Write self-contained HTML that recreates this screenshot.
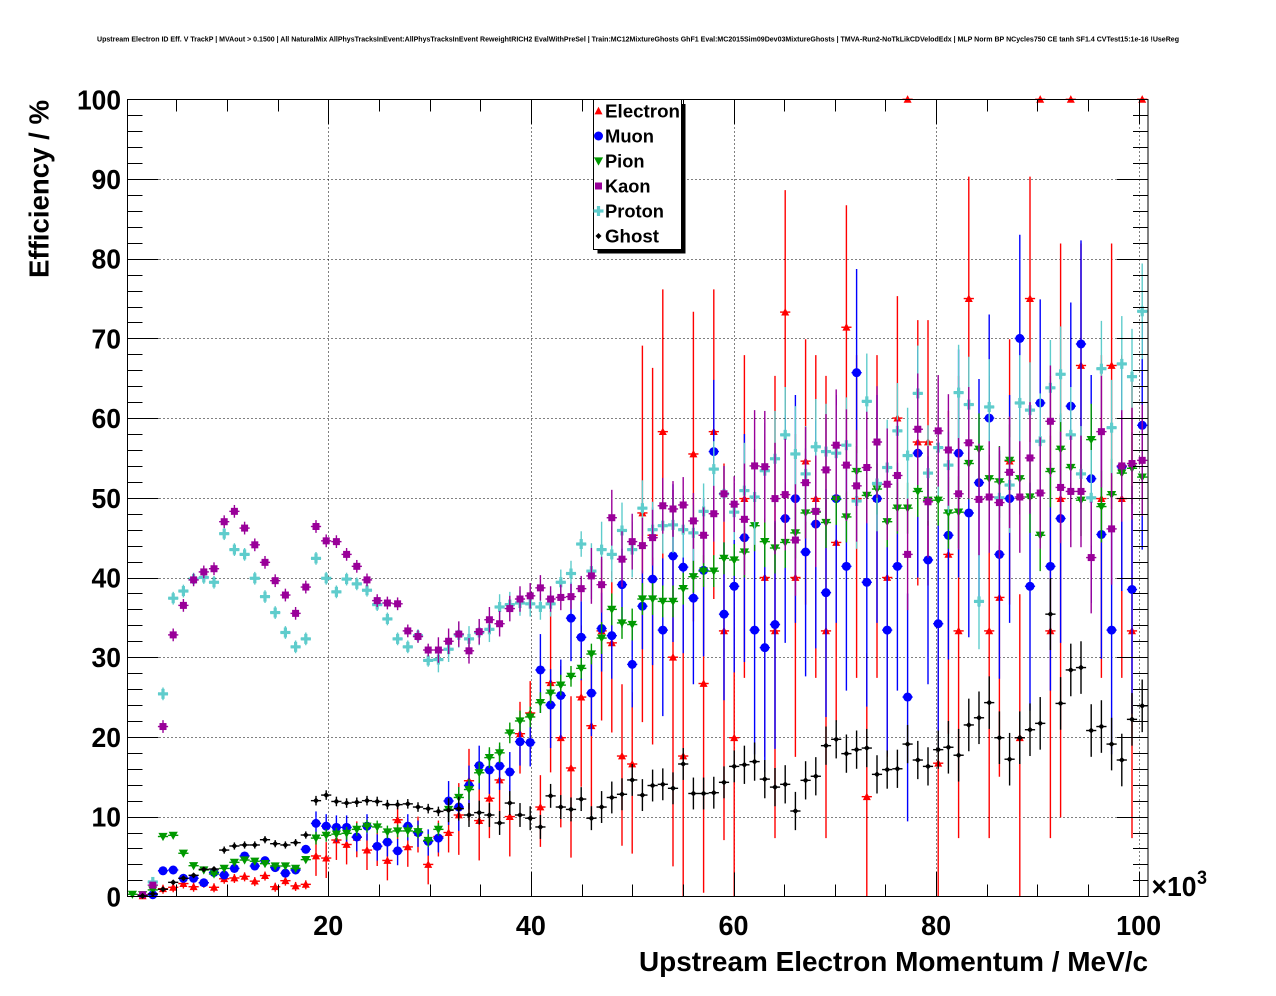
<!DOCTYPE html>
<html><head><meta charset="utf-8">
<style>
html,body{margin:0;padding:0;background:#fff;}
svg{display:block;}
text{font-family:"Liberation Sans",Arial,sans-serif;font-weight:bold;fill:#000;}
</style></head>
<body>
<svg id="c" width="1276" height="996" viewBox="0 0 1276 996" xmlns="http://www.w3.org/2000/svg">
<rect width="1276" height="996" fill="#fff"/>
<text x="638" y="41.5" font-size="7.2" text-anchor="middle" textLength="1082" lengthAdjust="spacingAndGlyphs">Upstream Electron ID Eff. V TrackP | MVAout &gt; 0.1500 | All NaturalMix AllPhysTracksInEvent:AllPhysTracksInEvent ReweightRICH2 EvalWithPreSel | Train:MC12MixtureGhosts GhF1 Eval:MC2015Sim09Dev03MixtureGhosts | TMVA-Run2-NoTkLikCDVelodEdx | MLP Norm BP NCycles750 CE tanh SF1.4 CVTest15:1e-16 !UseReg</text>

<g id="grid" stroke="#000" stroke-width="1" stroke-dasharray="1 3" fill="none"></g>
<g id="data"></g>
<g id="ticks" stroke="#000" stroke-width="1"></g>
<rect x="127.5" y="99.5" width="1020.5" height="797" fill="none" stroke="#000" stroke-width="1"/>

<!-- Y tick labels -->
<g font-size="28" text-anchor="end">
<text x="121" y="906.3" textLength="14.5" lengthAdjust="spacingAndGlyphs">0</text>
<text x="121" y="826.6" textLength="29.5" lengthAdjust="spacingAndGlyphs">10</text>
<text x="121" y="746.9" textLength="29.5" lengthAdjust="spacingAndGlyphs">20</text>
<text x="121" y="667.2" textLength="29.5" lengthAdjust="spacingAndGlyphs">30</text>
<text x="121" y="587.5" textLength="29.5" lengthAdjust="spacingAndGlyphs">40</text>
<text x="121" y="507.8" textLength="29.5" lengthAdjust="spacingAndGlyphs">50</text>
<text x="121" y="428.1" textLength="29.5" lengthAdjust="spacingAndGlyphs">60</text>
<text x="121" y="348.4" textLength="29.5" lengthAdjust="spacingAndGlyphs">70</text>
<text x="121" y="268.7" textLength="29.5" lengthAdjust="spacingAndGlyphs">80</text>
<text x="121" y="189.0" textLength="29.5" lengthAdjust="spacingAndGlyphs">90</text>
<text x="121" y="109.3" textLength="44" lengthAdjust="spacingAndGlyphs">100</text>
</g>
<!-- X tick labels -->
<g font-size="28" text-anchor="middle">
<text x="328.3" y="935" textLength="30" lengthAdjust="spacingAndGlyphs">20</text>
<text x="530.9" y="935" textLength="30" lengthAdjust="spacingAndGlyphs">40</text>
<text x="733.5" y="935" textLength="30" lengthAdjust="spacingAndGlyphs">60</text>
<text x="936.1" y="935" textLength="30" lengthAdjust="spacingAndGlyphs">80</text>
<text x="1138.6" y="935" textLength="45" lengthAdjust="spacingAndGlyphs">100</text>
</g>
<text x="1151.5" y="896" font-size="28" textLength="45" lengthAdjust="spacingAndGlyphs">×10</text>
<text x="1197" y="884" font-size="19" textLength="10" lengthAdjust="spacingAndGlyphs">3</text>

<!-- axis titles -->
<text x="1148" y="971" font-size="27.5" text-anchor="end" textLength="509" lengthAdjust="spacingAndGlyphs">Upstream Electron Momentum / MeV/c</text>
<text transform="translate(48.5,100) rotate(-90)" x="0" y="0" font-size="27.5" text-anchor="end" textLength="178" lengthAdjust="spacingAndGlyphs">Efficiency / %</text>

<!-- legend -->
<rect x="597.5" y="104" width="88" height="149.5" fill="#000"/>
<rect x="593.5" y="99.5" width="88" height="150" fill="#fff" stroke="#000" stroke-width="1"/>
<g id="legm"></g>
<g font-size="18.7">
<text x="605" y="117.5" textLength="75" lengthAdjust="spacingAndGlyphs">Electron</text>
<text x="605" y="142.5" textLength="49" lengthAdjust="spacingAndGlyphs">Muon</text>
<text x="605" y="167.5" textLength="39.5" lengthAdjust="spacingAndGlyphs">Pion</text>
<text x="605" y="192.5" textLength="45.5" lengthAdjust="spacingAndGlyphs">Kaon</text>
<text x="605" y="217.5" textLength="59" lengthAdjust="spacingAndGlyphs">Proton</text>
<text x="605" y="242.5" textLength="54" lengthAdjust="spacingAndGlyphs">Ghost</text>
</g>
</svg>
<script>
(function(){
const NS="http://www.w3.org/2000/svg";
const X=k=>132.4+10.2*k, Y=v=>896.3-7.97*v, XV=v=>125.7+10.13*v;
function el(tag,a,p){const e=document.createElementNS(NS,tag);for(const k in a)e.setAttribute(k,a[k]);p.appendChild(e);return e;}
const grid=document.getElementById('grid'), ticks=document.getElementById('ticks'), dataG=document.getElementById('data'), legm=document.getElementById('legm');
// grid
[20,40,60,80,100].forEach(v=>{const x=Math.round(XV(v))+0.5;el('line',{x1:x,y1:99.5,x2:x,y2:896.5},grid);});
for(let v=10;v<100;v+=10){const y=Math.round(Y(v))+0.5;el('line',{x1:127.5,y1:y,x2:1148,y2:y},grid);}
// ticks
for(let v=5;v<=100;v+=5){const x=Math.round(XV(v))+0.5;const L=(v%20===0)?24:12;
 el('line',{x1:x,y1:896.5,x2:x,y2:896.5-L},ticks);el('line',{x1:x,y1:99.5,x2:x,y2:99.5+L},ticks);}
for(let v=0;v<=100;v+=2){const y=Math.round(Y(v))+0.5;const L=(v%10===0)?31:15;
 el('line',{x1:127.5,y1:y,x2:127.5+L,y2:y},ticks);el('line',{x1:1148,y1:y,x2:1148-L,y2:y},ticks);}
// markers
const mk={
 tu:(g,x,y,c)=>el('polygon',{points:`${x-4},${y+3.4} ${x+4},${y+3.4} ${x},${y-4.2}`,fill:c},g),
 ci:(g,x,y,c)=>el('circle',{cx:x,cy:y,r:4.5,fill:c},g),
 td:(g,x,y,c)=>el('polygon',{points:`${x-4.6},${y-3.6} ${x+4.6},${y-3.6} ${x},${y+4.6}`,fill:c},g),
 sq:(g,x,y,c)=>el('rect',{x:x-3.5,y:y-3.5,width:7,height:7,fill:c},g),
 cr:(g,x,y,c)=>{el('rect',{x:x-5,y:y-1.6,width:10,height:3.2,fill:c},g);el('rect',{x:x-1.6,y:y-5,width:3.2,height:10,fill:c},g);},
 gh:(g,x,y,c)=>el('polygon',{points:`${x-3},${y} ${x},${y-3} ${x+3},${y} ${x},${y+3}`,fill:c},g)
};
const E=[null,0.05,null,0.95,1.13,1.6,1.2,1.7,1.13,2.2,
2.3,2.5,1.9,2.6,1.2,1.96,1.3,1.5,5.06,4.8,
7.06,6.5,7.4,5.8,6.3,4.5,9.6,6.2,8.0,4.0,
7.5,8.0,10.2,14.5,9.5,12.3,14.6,10.0,20.4,23.0,
11.2,26.8,19.9,16.1,25.0,21.4,33.3,31.8,17.6,16.6,
48.1,45.3,58.3,30.0,17.6,55.5,26.7,58.3,33.3,19.9,
49.9,null,40.0,33.3,73.3,40.0,54.6,49.9,33.3,44.4,
71.4,49.9,12.5,49.9,40.0,60.0,100,57.0,57.0,16.7,
42.9,33.3,75.0,null,33.3,37.5,54.6,19.9,75.0,100,
33.3,49.9,100,66.6,null,49.9,66.6,49.9,33.3,100];
const M=[null,null,0.2,3.2,3.3,2.26,2.26,1.7,3.0,2.67,
3.5,5.06,3.8,4.47,3.6,2.9,3.3,5.9,9.15,8.8,
8.65,8.65,7.44,8.8,6.27,6.8,5.7,8.8,8.0,6.9,
7.3,11.96,11.2,13.9,16.4,15.85,16.35,15.6,19.4,19.3,
28.4,24.0,25.2,34.9,32.5,25.5,33.6,32.7,39.1,29.1,
36.4,39.8,33.4,42.7,41.3,37.4,40.9,55.8,35.4,38.9,
45.0,33.4,31.2,34.1,47.4,49.9,43.2,46.7,38.1,49.9,
41.4,65.7,39.4,49.9,33.4,41.4,25.0,55.6,42.2,34.2,
45.3,55.6,48.1,51.9,60.0,42.9,49.9,70.0,38.9,61.9,
41.4,47.4,61.5,69.3,52.4,45.4,33.4,53.9,38.5,59.1];
const P=[0.25,0.2,0.8,7.5,7.65,5.4,3.84,3.3,2.8,3.5,
4.26,4.55,4.4,4.1,3.8,3.8,3.5,4.6,7.3,7.65,
7.8,7.9,8.4,8.8,8.7,8.07,8.2,8.2,8.1,7.0,
8.4,10.9,12.4,13.4,15.5,17.4,18.0,20.5,22.0,22.5,
24.3,25.5,26.5,27.6,28.6,30.4,32.4,36.0,34.3,34.1,
37.3,37.3,37.0,37.0,38.6,40.1,40.8,40.8,42.4,42.2,
43.2,46.5,44.5,43.7,44.4,45.6,48.1,48.2,46.9,49.8,
47.6,53.3,50.3,51.1,47.0,48.7,48.7,50.8,49.7,49.7,
48.1,48.2,54.3,56.1,52.4,52.0,54.7,52.4,50.1,45.3,
53.3,56.1,53.8,49.7,57.3,48.9,50.4,53.1,53.7,52.6];
const K=[null,0.2,1.4,21.3,32.8,36.5,39.7,40.7,41.1,47.0,
48.3,46.2,44.1,41.9,39.6,37.8,35.5,38.8,46.4,44.6,
44.5,42.9,41.4,39.7,37.1,36.8,36.7,33.3,32.6,30.9,
30.9,32.0,32.9,30.8,33.2,34.7,34.2,36.1,37.3,37.7,
38.7,37.3,37.5,37.6,38.6,40.2,39.1,47.5,42.3,44.5,
44.0,45.0,49.0,48.6,49.1,47.1,45.3,48.0,50.5,49.2,
47.3,54.0,53.9,49.9,50.4,44.7,51.9,48.3,53.5,56.6,
54.1,51.5,53.8,57.0,51.7,52.8,42.9,58.6,49.5,58.4,
56.0,50.5,56.9,49.8,50.1,49.4,53.2,50.1,55.0,50.6,
59.6,51.3,50.8,50.8,42.5,58.3,46.1,54.0,54.3,54.7];
const PR=[null,null,1.8,25.4,37.4,38.3,39.8,40.0,39.4,45.5,
43.5,42.9,39.9,37.6,35.6,33.1,31.3,32.3,42.4,39.9,
38.2,39.8,39.2,38.4,36.6,34.8,32.3,31.3,32.7,29.6,
29.7,31.0,32.8,32.3,33.1,33.5,36.3,36.6,36.8,36.7,
36.3,36.7,39.4,40.5,44.2,40.8,43.5,42.9,45.9,43.5,
48.7,46.0,46.5,46.6,46.0,45.6,48.3,53.6,50.5,48.2,
50.9,50.1,53.4,54.9,57.9,55.5,53.0,56.4,55.8,55.6,
56.6,49.6,62.1,51.8,53.8,58.4,55.3,63.1,53.1,56.3,
54.1,63.2,61.7,37.0,61.4,50.0,51.6,61.9,61.0,57.1,
63.8,65.5,57.9,53.0,50.0,66.2,58.8,66.8,65.2,73.4];
const G=[null,0.05,0.3,0.88,1.75,2.26,2.63,3.38,3.42,5.8,
6.31,6.44,6.44,7.1,6.6,6.44,6.73,7.69,12.0,12.7,
11.9,11.7,11.8,12.0,11.9,11.5,11.5,11.6,11.2,11.0,
10.65,10.8,11.0,10.2,10.5,10.2,9.2,11.7,10.2,9.8,
8.7,12.6,11.2,10.9,12.2,9.8,11.2,12.4,12.8,14.6,
12.7,13.9,14.05,13.55,16.6,12.9,12.9,13.0,14.3,16.3,
16.5,16.9,14.7,13.7,14.05,10.7,14.55,15.06,18.9,19.7,
17.9,18.4,18.6,15.3,15.9,16.0,19.1,17.1,16.3,18.4,
18.7,17.7,21.5,22.4,24.3,19.9,17.2,19.9,20.9,21.7,
35.4,24.2,28.4,28.7,20.8,21.3,19.1,17.1,22.2,23.9];

const errE=(k,v)=>{ if(v>=99.9) return [0,0];
 let e=k<18?0.5:k<32?2:k<41?4:k<50?9:k<60?21:18;
 if(k===90||k===91) e=32;
 if(k>=60&&Math.abs(v-33.3)<0.2) return [26,32];
 if(v<50) return [Math.min(v,e*1.25),e]; return [e,e*0.85]; };
const errM=(k,v)=>{const e=k<18?0.45:k<31?1.5:k<40?2.5:k<51?4.5:k<60?9:13; return [e*1.2,e];};
const errP=(k,v)=>{const e=k<18?0.35:k<31?0.8:k<46?1.3:k<60?2:k<80?3.2:4.5; return [e,e];};
const errK=(k,v)=>{const e=k<3?0.3:k<30?0.8:k<45?1.6:k<60?3.5:7; return [e,e];};
const errPR=(k,v)=>{const e=k<3?0.3:k<30?0.8:k<45?1.6:k<60?3.5:6; return [e,e];};
const errG=(k,v)=>{let e=k<9?0.3:k<18?0.45:k<31?0.6:k<46?1.5:k<60?2.0:k<80?2.4:3.3; if(k===90)e=4.5; return [e,e];};

function draw(data,color,m,errF){
 const g=el('g',{},dataG);
 data.forEach((v,k)=>{ if(v===null) return;
  const x=X(k), y=Y(v); const [lo,hi]=errF(k,v);
  if(lo>0||hi>0){ el('line',{x1:x,y1:Y(Math.min(100,v+hi)),x2:x,y2:Y(Math.max(0,v-lo)),stroke:color,'stroke-width':1.4},g); }
  el('line',{x1:x-5.1,y1:y,x2:x+5.1,y2:y,stroke:color,'stroke-width':1.4},g);
  mk[m](g,x,y,color);
 });
}
const RED='#ff0000',BLUE='#0000ff',GREEN='#009900',PURP='#990099',CYAN='#5fcccc',BLK='#000000';
draw(E,RED,'tu',errE);
draw(M,BLUE,'ci',errM);
draw(P,GREEN,'td',errP);
draw(PR,CYAN,'cr',errPR);
draw(K,PURP,'sq',errK);
draw(G,BLK,'gh',errG);
// legend markers
const lx=598.5;
mk.tu(legm,lx,111,RED); mk.ci(legm,lx,136,BLUE); mk.td(legm,lx,161,GREEN);
mk.sq(legm,lx,186,PURP); mk.cr(legm,lx,211,CYAN); mk.gh(legm,lx,236,BLK);
})();
</script>
</body></html>
